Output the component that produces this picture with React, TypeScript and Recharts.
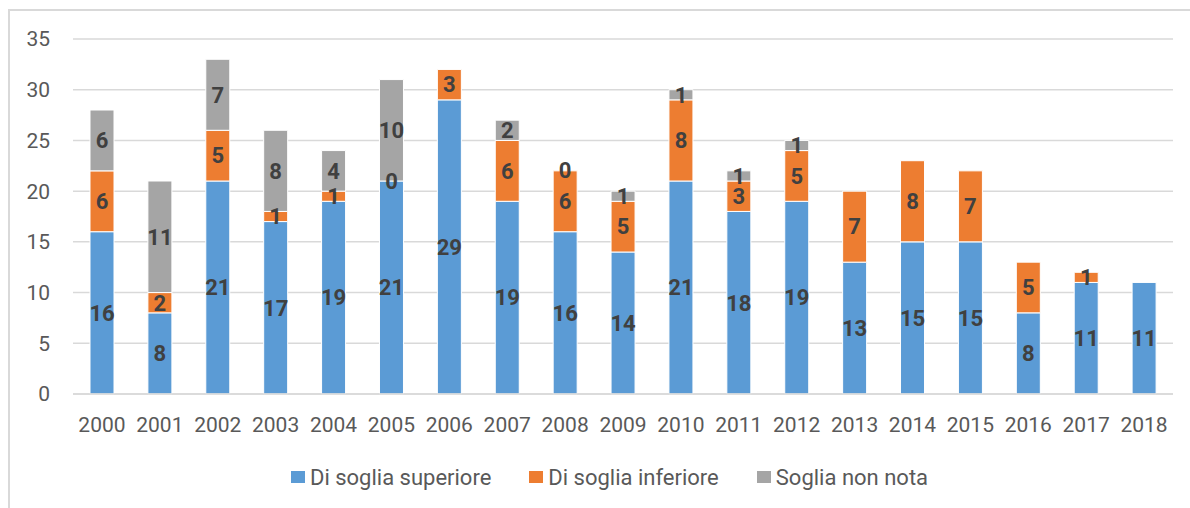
import { Bar, BarChart, CartesianGrid, LabelList, Legend, XAxis, YAxis } from "recharts";

const years = ["2000", "2001", "2002", "2003", "2004", "2005", "2006", "2007", "2008", "2009", "2010", "2011", "2012", "2013", "2014", "2015", "2016", "2017", "2018"];
const superiore = [16, 8, 21, 17, 19, 21, 29, 19, 16, 14, 21, 18, 19, 13, 15, 15, 8, 11, 11];
const inferiore = [6, 2, 5, 1, 1, 0, 3, 6, 6, 5, 8, 3, 5, 7, 8, 7, 5, 1, null];
const nonNota = [6, 11, 7, 8, 4, 10, null, 2, 0, 1, 1, 1, 1, null, null, null, null, null, null];
const yTicks = [0, 5, 10, 15, 20, 25, 30, 35];

const series = [
  { key: "superiore", name: "Di soglia superiore", color: "#5b9bd5", next: "inferiore" },
  { key: "inferiore", name: "Di soglia inferiore", color: "#ed7d31", next: "nonNota" },
  { key: "nonNota", name: "Soglia non nota", color: "#a5a5a5", next: null },
];

const data = years.map((year, i) => ({
  year,
  superiore: superiore[i],
  inferiore: inferiore[i],
  nonNota: nonNota[i],
}));

const font = "Roboto, sans-serif";
const labelStyle = { fill: "#404040", fontSize: 22, fontWeight: "bold" as const, fontFamily: font };

// a zero segment has no height, so its "0" is drawn at the top of the segment below it
const zeroLabel = (props: any) => {
  if (props.value !== 0) return null;
  const box = props.viewBox ?? props;
  return (
    <text x={box.x + box.width / 2} y={box.y} textAnchor="middle" dominantBaseline="central" {...labelStyle}>
      0
    </text>
  );
};

function LegendContent() {
  return (
    <div style={{ display: "flex", justifyContent: "center", alignItems: "center", height: 40, paddingLeft: 29, gap: 38, fontFamily: font, fontSize: 22, color: "#595959" }}>
      {series.map((s) => (
        <div key={s.key} style={{ display: "flex", alignItems: "center" }}>
          <span style={{ display: "inline-block", width: 14, height: 12, background: s.color, marginRight: 5 }} />
          <span>{s.name}</span>
        </div>
      ))}
    </div>
  );
}

export default function App() {
  return (
    <div style={{ position: "fixed", left: 0, top: 0, width: 1190, height: 508, overflow: "hidden", background: "#fff" }}>
      <div style={{ position: "absolute", left: 8, top: 9, width: 1300, height: 600, borderLeft: "2px solid #d9d9d9", borderTop: "2px solid #d9d9d9" }} />
      <BarChart width={1190} height={508} data={data} margin={{ top: 39, right: 17, bottom: 24, left: 0 }} barSize={24}>
        <CartesianGrid vertical={false} stroke="#d9d9d9" strokeWidth={1.5} />
        <XAxis
          dataKey="year"
          height={50}
          tickLine={false}
          axisLine={{ stroke: "#d9d9d9", strokeWidth: 1.5 }}
          tickSize={0}
          tickMargin={23}
          tick={{ fill: "#595959", fontSize: 21, fontFamily: font }}
          interval={0}
        />
        <YAxis
          width={73}
          domain={[0, 35]}
          ticks={yTicks}
          tickLine={false}
          axisLine={false}
          tickSize={0}
          tickMargin={23}
          tick={{ fill: "#595959", fontSize: 21, fontFamily: font }}
        />
        <Legend content={<LegendContent />} wrapperStyle={{ position: "absolute", bottom: 11, left: 0, width: 1190 }} />
        {series.map((s) => (
          <Bar key={s.key} dataKey={s.key} name={s.name} stackId="a" fill={s.color} stroke="#fff" strokeWidth={1} isAnimationActive={false}>
            <LabelList dataKey={s.key} position="center" {...labelStyle} />
            {s.next && (
              <LabelList
                valueAccessor={(entry: any) => entry?.payload?.[s.next as string]}
                content={zeroLabel}
              />
            )}
          </Bar>
        ))}
      </BarChart>
    </div>
  );
}
